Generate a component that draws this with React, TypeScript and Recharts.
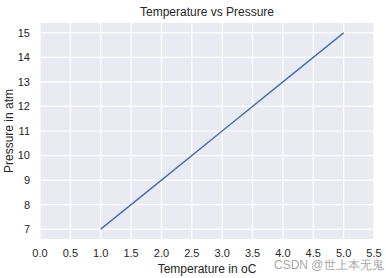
import React from 'react';
import { LineChart, Line, XAxis, YAxis, CartesianGrid } from 'recharts';

const temperatures = [1, 2, 3, 4, 5];
const pressures = [7, 9, 11, 13, 15];
const xTicks = [0, 0.5, 1, 1.5, 2, 2.5, 3, 3.5, 4, 4.5, 5, 5.5];
const yTicks = [7, 8, 9, 10, 11, 12, 13, 14, 15];

const data = temperatures.map((t, i) => ({ t, p: pressures[i] }));

const FONT = '"Liberation Sans", Arial, sans-serif';
const INK = '#262626';

export default function App() {
  return (
    <div style={{ position: 'absolute', left: 0, top: 0, width: 386, height: 278, background: '#fff', fontFamily: FONT }}>
      <div style={{ position: 'absolute', left: 40, width: 334, top: 4, textAlign: 'center', fontSize: 12, color: INK, lineHeight: '16px' }}>
        Temperature vs Pressure
      </div>
      <LineChart width={386} height={278} data={data} margin={{ top: 23, right: 12, left: 0, bottom: 0 }}>
        <CartesianGrid fill="#EAEAF2" stroke="#ffffff" strokeWidth={1.2} verticalValues={xTicks} horizontalValues={yTicks} />
        <XAxis
          dataKey="t"
          type="number"
          domain={[0, 5.5]}
          ticks={xTicks}
          tickFormatter={(v: number) => v.toFixed(1)}
          axisLine={false}
          tickLine={false}
          tickSize={0}
          tickMargin={10}
          height={39}
          interval={0}
          tick={{ fill: INK, fontSize: 11, fontFamily: FONT }}
          label={{ value: 'Temperature in oC', position: 'insideBottom', offset: 5, fill: INK, fontSize: 12, fontFamily: FONT }}
        />
        <YAxis
          type="number"
          domain={[6.6, 15.4]}
          ticks={yTicks}
          allowDataOverflow
          axisLine={false}
          tickLine={false}
          tickSize={0}
          tickMargin={10}
          width={40}
          interval={0}
          tick={{ fill: INK, fontSize: 11, fontFamily: FONT }}
        />
        <Line
          type="linear"
          dataKey="p"
          stroke="#4C72B0"
          strokeWidth={1.5}
          dot={false}
          isAnimationActive={false}
        />
      </LineChart>
      <div
        style={{
          position: 'absolute',
          left: 9,
          top: 131,
          transform: 'translate(-50%, -50%) rotate(-90deg)',
          fontSize: 12,
          color: INK,
          whiteSpace: 'nowrap',
          lineHeight: '14px',
        }}
      >
        Pressure in atm
      </div>
      <div style={{ position: 'absolute', left: 274, top: 258, fontSize: 12, color: '#a8a8a8', whiteSpace: 'nowrap', lineHeight: '14px' }}>
        CSDN @世上本无鬼
      </div>
    </div>
  );
}
